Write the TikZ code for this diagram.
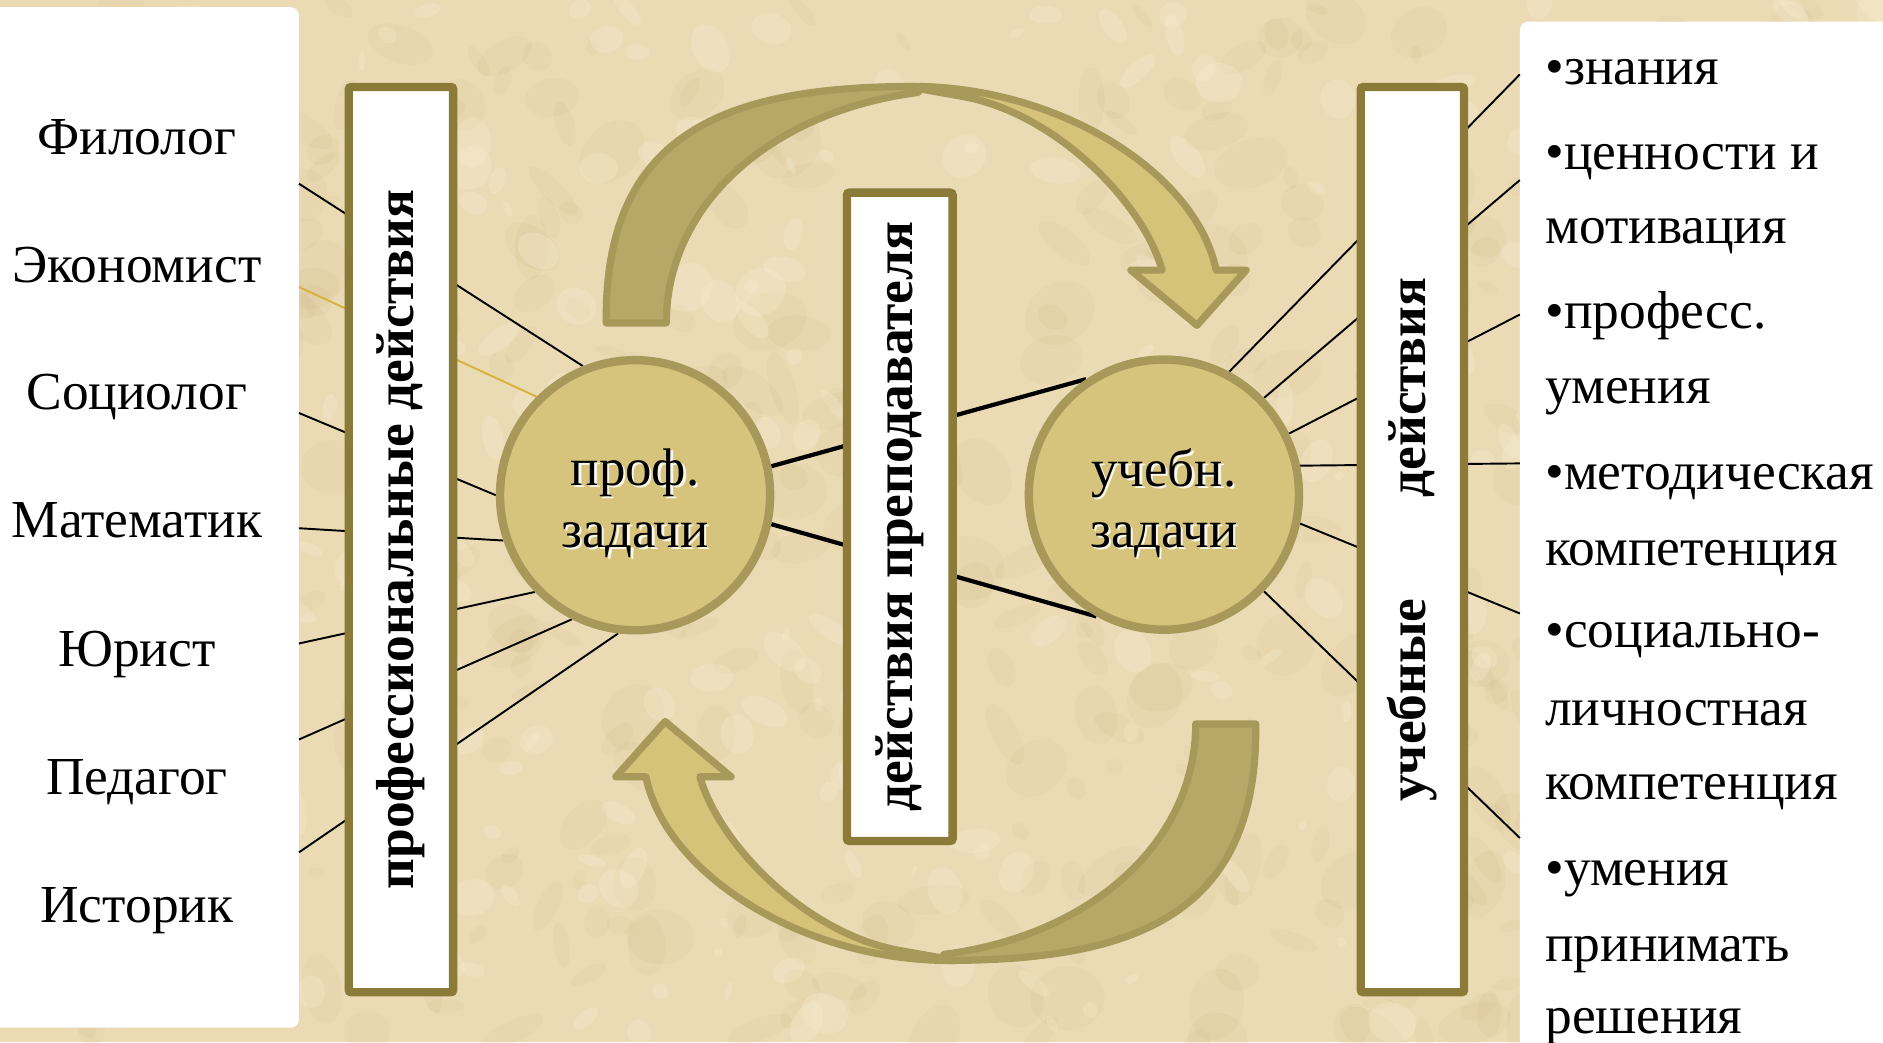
\documentclass[tikz,border=0pt]{standalone}
\usepackage{fontspec}
\setmainfont{Liberation Serif}
\definecolor{bgc}{RGB}{235,219,181}
\definecolor{bgdark}{RGB}{204,180,128}
\definecolor{bglight}{RGB}{248,238,212}
\definecolor{boxc}{RGB}{139,122,56}
\definecolor{arrline}{RGB}{168,152,90}
\definecolor{arrdark}{RGB}{184,168,104}
\definecolor{arrlight}{RGB}{213,195,122}
\definecolor{circfill}{RGB}{214,196,124}
\definecolor{goldc}{RGB}{214,180,60}
\pgfdeclarelayer{back}
\pgfdeclarelayer{lines}
\pgfsetlayers{back,lines,main}
\tikzset{
  bigarrow/.pic={
    \filldraw[draw=arrline, fill=arrdark, line width=6, line join=round]
      (505,269) .. controls (503,112) and (602,72) .. (762,72)
      -- (765,77) .. controls (640,93) and (555,172) .. (555,269) -- cycle;
    \filldraw[draw=arrline, fill=arrlight, line width=6, line join=round]
      (755,72) .. controls (878,70) and (996,142) .. (1013,225)
      -- (1038,225) -- (997,271) -- (942,225) -- (968,225)
      .. controls (952,168) and (878,93) .. (800,80) -- cycle;
  }
}
\begin{document}
\begin{tikzpicture}[x=1pt,y=-1pt,
  person/.style={font=\fontsize{44.5}{50}\selectfont, inner sep=0, anchor=base},
  rtext/.style={font=\fontsize{44.5}{50}\selectfont, inner sep=0, anchor=base west},
  vbox/.style={draw=boxc, line width=7, fill=white, rounded corners=2, inner sep=0, rotate=90,
               font=\bfseries\fontsize{44.5}{50}\selectfont},
  circ/.style={circle, draw=arrline, line width=7, fill=circfill, minimum size=225, inner sep=0},
  ctext/.style={font=\fontsize{44}{50}\selectfont, inner sep=0, anchor=base},
  cglow/.style={ctext, text=white, opacity=0.85},
  thinlink/.style={line width=1.6, draw=black},
  goldlink/.style={line width=1.6, draw=goldc},
  tieline/.style={line width=3.5, draw=black},
]
\useasboundingbox (0,0) rectangle (1568.5,868);
\begin{pgfonlayer}{back}
  \fill[bgc] (0,0) rectangle (1568.5,868);
  \pgfmathsetseed{12}
  \foreach \i in {1,...,500}{
    \pgfmathsetmacro\xx{rnd*1568}
    \pgfmathsetmacro\yy{rnd*868}
    \pgfmathsetmacro\rr{6+rnd*26}
    \pgfmathsetmacro\ss{0.3+rnd*0.6}
    \pgfmathsetmacro\aa{rnd*180}
    \fill[bgdark,opacity=0.12,rotate around={\aa:(\xx,\yy)}] (\xx,\yy) ellipse [x radius=\rr, y radius=\rr*\ss];
  }
  \foreach \i in {1,...,350}{
    \pgfmathsetmacro\xx{rnd*1568}
    \pgfmathsetmacro\yy{rnd*868}
    \pgfmathsetmacro\rr{4+rnd*18}
    \pgfmathsetmacro\ss{0.3+rnd*0.6}
    \pgfmathsetmacro\aa{rnd*180}
    \fill[bglight,opacity=0.3,rotate around={\aa:(\xx,\yy)}] (\xx,\yy) ellipse [x radius=\rr, y radius=\rr*\ss];
  }
  \fill[white,rounded corners=7] (-20,6) rectangle (249,856);
  \fill[white,rounded corners=7] (1266,18) rectangle (1600,900);
\end{pgfonlayer}

% left names
\node[person] (fil) at (114,129) {Филолог};
\node[person] (eko) at (114,235) {Экономист};
\node[person] (soc) at (114,341) {Социолог};
\node[person] (mat) at (114,448) {Математик};
\node[person] (yur) at (114,555) {Юрист};
\node[person] (ped) at (114,662) {Педагог};
\node[person] (ist) at (114,768) {Историк};

% right items
\node[rtext] (i1)  at (1287,70)  {•знания};
\node[rtext] (i2a) at (1287,141) {•ценности и};
\node[rtext] (i2b) at (1287,203) {мотивация};
\node[rtext] (i3a) at (1287,274) {•професс.};
\node[rtext] (i3b) at (1287,336) {умения};
\node[rtext] (i4a) at (1287,408) {•методическая};
\node[rtext] (i4b) at (1287,471) {компетенция};
\node[rtext] (i5a) at (1287,539) {•социально-};
\node[rtext] (i5b) at (1287,604) {личностная};
\node[rtext] (i5c) at (1287,666) {компетенция};
\node[rtext] (i6a) at (1287,738) {•умения};
\node[rtext] (i6b) at (1287,801) {принимать};
\node[rtext] (i6c) at (1287,861) {решения};

% panel edge points
\coordinate (p1) at (249,153);
\coordinate (p2) at (249,239);
\coordinate (p3) at (249,344);
\coordinate (p4) at (249,440);
\coordinate (p5) at (249,536);
\coordinate (p6) at (249,616);
\coordinate (p7) at (249,710);
\coordinate (q1) at (1266,62);
\coordinate (q2) at (1266,150);
\coordinate (q3) at (1266,262);
\coordinate (q4) at (1266,386);
\coordinate (q5) at (1266,511);
\coordinate (q6) at (1266,698);

% boxes
\node[vbox, minimum width=754, minimum height=87] (bL) at (334,449.5) {профессиональные действия};
\node[vbox, minimum width=540, minimum height=88] (bC) at (749.5,430.5) {действия преподавателя};
\node[vbox, minimum width=754, minimum height=86] (bR) at (1176.5,449.5) {учебные\hspace{84pt}действия};

% circles
\node[circ] (cL) at (529,412.5) {};
\node[circ] (cR) at (969.5,412) {};
\node[cglow] (cLg1) at (531,406) {проф.};
\node[ctext] (cL1)  at (529,404) {проф.};
\node[cglow] (cLg2) at (531,458) {задачи};
\node[ctext] (cL2)  at (529,456) {задачи};
\node[cglow] (cRg1) at (971.5,407) {учебн.};
\node[ctext] (cR1)  at (969.5,405) {учебн.};
\node[cglow] (cRg2) at (971.5,458) {задачи};
\node[ctext] (cR2)  at (969.5,456) {задачи};

% connectors
\begin{pgfonlayer}{lines}
  \draw[thinlink] (p1) -- (cL.112.8);
  \draw[goldlink] (p2) -- (cL.135.3);
  \draw[thinlink] (p3) -- (cL.180);
  \draw[thinlink] (p4) -- (cL.199.4);
  \draw[thinlink] (p5) -- (cL.224.7);
  \draw[thinlink] (p6) -- (cL.243);
  \draw[thinlink] (p7) -- (cL.263);
  \draw[thinlink] (cR.62.1) -- (q1);
  \draw[thinlink] (cR.44.1) -- (q2);
  \draw[thinlink] (cR.26) -- (q3);
  \draw[thinlink] (cR.12.8) -- (q4);
  \draw[thinlink] (cR.-12.1) -- (q5);
  \draw[thinlink] (cR.-44.1) -- (q6);
  \draw[tieline] (cL.12.2) -- (cR.124.4);
  \draw[tieline] (cL.-12.9) -- (cR.241);
\end{pgfonlayer}

% curved arrows
\pic (arrT) at (0,0) {bigarrow};
\pic[rotate=180] (arrB) at (1551,872) {bigarrow};
\end{tikzpicture}
\end{document}
